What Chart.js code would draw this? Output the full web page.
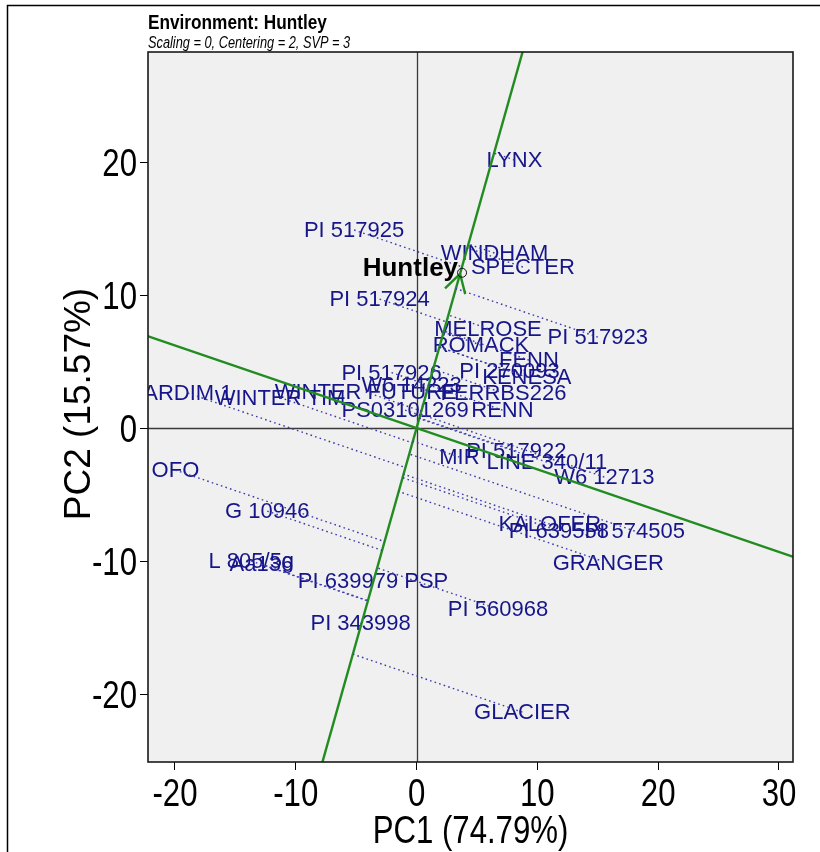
<!DOCTYPE html>
<html>
<head>
<meta charset="utf-8">
<title>GGE biplot – Huntley</title>
<script src="https://cdn.jsdelivr.net/npm/chart.js@4.4.1/dist/chart.umd.min.js"></script>
<style>
  html, body { margin: 0; padding: 0; background: #ffffff; }
  #wrap { position: relative; width: 820px; height: 852px; }
  canvas { display: block; }
</style>
</head>
<body>
<div id="wrap"><canvas id="biplot" width="820" height="852"></canvas></div>
<script>
// Genotype scores on the first two principal components
const genotypes = [
  'LYNX', 'PI 517925', 'WINDHAM', 'SPECTER', 'PI 517924', 'MELROSE', 'PI 517923',
  'ROMACK', 'FENN', 'PI 270093', 'KENESA', 'FERRBS226', 'RENN', 'PS03101269',
  'PI 517926', 'W6 14223', 'WINTER FUTURE', 'WINTER TIM', 'ARDIM 1', 'OFO',
  'G 10946', 'L 805/5g', 'Aa136', 'PI 639979 PSP', 'PI 343998', 'PI 517922',
  'MIR', 'LINE 340/11', 'W6 12713', 'KALOFER', 'PI 639558', 'PI 574505',
  'GRANGER', 'PI 560968', 'GLACIER'
];
const pc1 = [
  8.10, -5.17, 6.45, 8.80, -3.06, 5.91, 15.00,
  5.33, 9.30, 7.69, 9.13, 7.19, 7.11, -0.95,
  -2.07, -0.41, -4.21, -11.30, -18.93, -19.96,
  -12.36, -13.68, -12.85, -3.60, -4.63, 8.26,
  3.55, 10.79, 15.54, 11.03, 11.78, 18.06,
  15.87, 6.74, 8.76
];
const pc2 = [
  20.15, 14.89, 13.16, 12.11, 9.70, 7.48, 6.84,
  6.24, 5.11, 4.29, 3.83, 2.63, 1.35, 1.35,
  4.17, 3.23, 2.71, 2.29, 2.63, -3.16,
  -6.24, -10.00, -10.23, -11.50, -14.66, -1.73,
  -2.18, -2.56, -3.68, -7.22, -7.74, -7.74,
  -10.15, -13.61, -21.35
];

// Environment vector
const environmentName = 'Huntley';
const envPC1 = 3.60;
const envPC2 = 11.60;

// Axis ticks and visible ranges
const xTickValues = [-20, -10, 0, 10, 20, 30];
const yTickValues = [-20, -10, 0, 10, 20];
const xRange = [-22.23, 31.16];
const yRange = [-25.10, 28.27];

const chartTitle = 'Environment: Huntley';
const chartSubtitle = 'Scaling = 0, Centering = 2, SVP = 3';
const xTitle = 'PC1 (74.79%)';
const yTitle = 'PC2 (15.57%)';

// ---- derived geometry -------------------------------------------------
const envLen = Math.hypot(envPC1, envPC2);
const ux = envPC1 / envLen, uy = envPC2 / envLen;
const FAR = 200;

const GREEN = '#228c22';
const LABEL_BLUE = '#16168a';
const DOT_BLUE = '#3a3aae';

const datasets = [];

// dotted projections of each genotype onto the environment axis
genotypes.forEach((g, i) => {
  const t = pc1[i] * ux + pc2[i] * uy;
  datasets.push({
    type: 'scatter',
    showLine: true,
    data: [{ x: pc1[i], y: pc2[i] }, { x: t * ux, y: t * uy }],
    borderColor: DOT_BLUE,
    borderWidth: 1.4,
    borderDash: [1.6, 3.2],
    pointRadius: 0,
    clip: 0
  });
});

// environment axis and its perpendicular through the origin
datasets.push({
  type: 'scatter', showLine: true,
  data: [{ x: -FAR * ux, y: -FAR * uy }, { x: FAR * ux, y: FAR * uy }],
  borderColor: GREEN, borderWidth: 2.4, pointRadius: 0, clip: 0
});
datasets.push({
  type: 'scatter', showLine: true,
  data: [{ x: -FAR * uy, y: FAR * ux }, { x: FAR * uy, y: -FAR * ux }],
  borderColor: GREEN, borderWidth: 2.4, pointRadius: 0, clip: 0
});

// genotype points (labels are drawn at these positions)
datasets.push({
  type: 'scatter',
  label: 'genotypes',
  data: genotypes.map((g, i) => ({ x: pc1[i], y: pc2[i] })),
  pointRadius: 0,
  clip: 0
});
const genotypeIndex = datasets.length - 1;

const SANS = "'Liberation Sans', Arial, sans-serif";
const NARROW_X = 0.82;   // horizontal squeeze giving a condensed Arial look

// text drawn with a horizontal squeeze
function narrowText(ctx, text, x, y, font, align, baseline) {
  ctx.save();
  ctx.translate(x, y);
  ctx.scale(NARROW_X, 1);
  ctx.font = font;
  ctx.textAlign = align;
  ctx.textBaseline = baseline || 'alphabetic';
  ctx.fillText(text, 0, 0);
  ctx.restore();
}

const biplotPlugin = {
  id: 'biplotDecor',
  beforeDraw(chart) {
    const { ctx, chartArea: a } = chart;
    ctx.save();
    ctx.fillStyle = '#ffffff';
    ctx.fillRect(0, 0, chart.width, chart.height);
    ctx.fillStyle = '#f0f0f0';
    ctx.fillRect(a.left, a.top, a.right - a.left, a.bottom - a.top);
    ctx.restore();
  },
  beforeDatasetsDraw(chart) {
    const { ctx, chartArea: a, scales: { x, y } } = chart;
    ctx.save();
    ctx.beginPath();
    ctx.rect(a.left, a.top, a.right - a.left, a.bottom - a.top);
    ctx.clip();
    // zero reference lines
    ctx.strokeStyle = '#3a3a3a';
    ctx.lineWidth = 1.3;
    const x0 = Math.round(x.getPixelForValue(0)) + 0.5;
    const y0 = Math.round(y.getPixelForValue(0)) + 0.5;
    ctx.beginPath();
    ctx.moveTo(x0, a.top); ctx.lineTo(x0, a.bottom);
    ctx.moveTo(a.left, y0); ctx.lineTo(a.right, y0);
    ctx.stroke();
    // genotype labels centred on their points
    ctx.fillStyle = LABEL_BLUE;
    ctx.font = '22px ' + SANS;
    ctx.textAlign = 'center';
    ctx.textBaseline = 'middle';
    const pts = chart.data.datasets[genotypeIndex].data;
    pts.forEach((p, i) => {
      ctx.fillText(genotypes[i], x.getPixelForValue(p.x), y.getPixelForValue(p.y) + 1);
    });
    ctx.restore();
  },
  afterDatasetsDraw(chart) {
    const { ctx, chartArea: a, scales: { x, y } } = chart;
    const ox = x.getPixelForValue(0), oy = y.getPixelForValue(0);
    const tx = x.getPixelForValue(envPC1), ty = y.getPixelForValue(envPC2);
    ctx.save();
    ctx.beginPath();
    ctx.rect(a.left, a.top, a.right - a.left, a.bottom - a.top);
    ctx.clip();
    // arrow head at the environment marker
    const dx = ox - tx, dy = oy - ty;
    const len = Math.hypot(dx, dy);
    const bx = dx / len, by = dy / len;
    const head = 21, ang = 30 * Math.PI / 180;
    ctx.strokeStyle = GREEN;
    ctx.lineWidth = 2.4;
    ctx.beginPath();
    [ang, -ang].forEach(t => {
      const rx = bx * Math.cos(t) - by * Math.sin(t);
      const ry = bx * Math.sin(t) + by * Math.cos(t);
      ctx.moveTo(tx, ty);
      ctx.lineTo(tx + rx * head, ty + ry * head);
    });
    ctx.stroke();
    // environment marker
    ctx.strokeStyle = '#111111';
    ctx.lineWidth = 1;
    ctx.beginPath();
    ctx.arc(tx + 2, ty - 1, 4.5, 0, Math.PI * 2);
    ctx.stroke();
    // environment label
    ctx.fillStyle = '#000000';
    ctx.font = 'bold 26px ' + SANS;
    ctx.textAlign = 'right';
    ctx.textBaseline = 'alphabetic';
    ctx.fillText(environmentName, tx - 2, ty + 2);
    ctx.restore();
  },
  afterDraw(chart) {
    const { ctx, chartArea: a, scales: { x, y } } = chart;
    ctx.save();
    // plot frame
    ctx.strokeStyle = '#1a1a1a';
    ctx.lineWidth = 1.6;
    ctx.strokeRect(a.left, a.top, a.right - a.left, a.bottom - a.top);
    // outer page frame
    ctx.strokeStyle = '#000000';
    ctx.lineWidth = 1.5;
    ctx.beginPath();
    ctx.moveTo(7.5, chart.height + 2);
    ctx.lineTo(7.5, 5.5);
    ctx.lineTo(chart.width + 2, 5.5);
    ctx.stroke();

    ctx.fillStyle = '#000000';
    // tick labels from the scales' own ticks
    x.ticks.forEach(t => {
      narrowText(ctx, String(t.value), x.getPixelForValue(t.value), a.bottom + 44, '38px ' + SANS, 'center');
    });
    y.ticks.forEach(t => {
      narrowText(ctx, String(t.value), a.left - 11, y.getPixelForValue(t.value) + 13.5, '38px ' + SANS, 'right');
    });

    // titles
    narrowText(ctx, chartTitle, a.left, 29, 'bold 21px ' + SANS, 'left');
    narrowText(ctx, chartSubtitle, a.left, 48, 'italic 15.6px ' + SANS, 'left');
    // axis titles
    narrowText(ctx, xTitle, (a.left + a.right) / 2, 843, '38px ' + SANS, 'center');
    ctx.save();
    ctx.translate(90, (a.top + a.bottom) / 2 - 3);
    ctx.rotate(-Math.PI / 2);
    ctx.font = '37px ' + SANS;
    ctx.textAlign = 'center';
    ctx.fillText(yTitle, 0, 0);
    ctx.restore();
    ctx.restore();
  }
};

new Chart(document.getElementById('biplot'), {
  type: 'scatter',
  data: { datasets },
  options: {
    responsive: false,
    devicePixelRatio: 1,
    animation: false,
    events: [],
    layout: { padding: { left: 0, top: 52, right: 27, bottom: 0 } },
    plugins: { legend: { display: false }, tooltip: { enabled: false }, title: { display: false } },
    scales: {
      x: {
        type: 'linear',
        min: xRange[0], max: xRange[1],
        afterBuildTicks: s => { s.ticks = xTickValues.map(v => ({ value: v })); },
        afterFit: s => { s.height = 90; },
        grid: { drawOnChartArea: false, drawTicks: true, tickLength: 8, color: '#000000', lineWidth: 1 },
        border: { display: false },
        ticks: { display: false, autoSkip: false, maxRotation: 0 }
      },
      y: {
        type: 'linear',
        min: yRange[0], max: yRange[1],
        afterBuildTicks: s => { s.ticks = yTickValues.map(v => ({ value: v })); },
        afterFit: s => { s.width = 148; },
        grid: { drawOnChartArea: false, drawTicks: true, tickLength: 8, color: '#000000', lineWidth: 1 },
        border: { display: false },
        ticks: { display: false, autoSkip: false }
      }
    }
  },
  plugins: [biplotPlugin]
});
</script>
</body>
</html>
